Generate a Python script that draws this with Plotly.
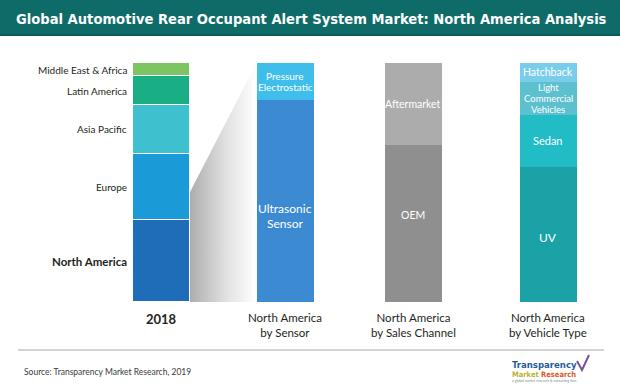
import plotly.graph_objects as go

# ---------------- data ----------------
region_labels = ["North America", "Europe", "Asia Pacific", "Latin America", "Middle East & Africa"]
region_share = [34.3, 27.8, 20.3, 12.1, 5.5]

sensor_labels = ["Ultrasonic<br>Sensor", "Pressure<br>Electrostatic"]
sensor_share = [84.5, 15.5]

channel_labels = ["OEM", "Aftermarket"]
channel_share = [65.7, 34.3]

vehicle_labels = ["UV", "Sedan", "Light<br>Commercial<br>Vehicles", "Hatchback"]
vehicle_share = [56.6, 21.6, 13.9, 7.9]

column_labels = ["<b>2018</b>", "North America<br>by Sensor", "North America<br>by Sales Channel",
                 "North America<br>by Vehicle Type"]

# ---------------- styles / layout constants ----------------
W, H = 620, 387
MT, MB = 63, 85
PLOT_H = H - MT - MB
COL_POS = [161, 285, 413, 548]   # column slot centres on the 0..620 x axis
BAR_W = 57
FONT = "Lato, 'Open Sans', sans-serif"

region_colors = ["#1f6db8", "#1a9ad6", "#3ec0cf", "#1aae85", "#7dc462"]
sensor_colors = ["#3c8bd2", "#3fbdeb"]
channel_colors = ["#8f8f8f", "#acacac"]
vehicle_colors = ["#1ba2a7", "#22bcc6", "#5cc0ce", "#7acdea"]


def py(px):
    """pixel row -> paper y"""
    return (H - MB - px) / PLOT_H


def pxx(px):
    return px / W


fig = go.Figure()

# connector gradient between column 1 and column 2
conn_top = 46  # height on column 1 where the connector starts
xl = COL_POS[0] + BAR_W / 2 + 0.5
xr = COL_POS[1] - BAR_W / 2
fig.add_trace(go.Scatter(
    x=[xl, xl, xr, xr, xl], y=[0, conn_top, 100, 0, 0],
    mode="lines", line=dict(width=0), fill="toself",
    fillgradient=dict(type="horizontal", colorscale=[[0, "#adadad"], [0.55, "#e2e2e2"], [1, "#ffffff"]]),
    hoverinfo="skip", showlegend=False))

annotations = []


def add_stack(col, values, colors, gap):
    for v, c in zip(values, colors):
        fig.add_trace(go.Bar(x=[COL_POS[col]], y=[v], width=BAR_W,
                             marker=dict(color=c, line=dict(color="white", width=gap)),
                             showlegend=False, hoverinfo="skip"))


add_stack(0, region_share, region_colors, 1.5)
add_stack(1, sensor_share, sensor_colors, 0)
add_stack(2, channel_share, channel_colors, 0)
add_stack(3, vehicle_share, vehicle_colors, 0)


def mids(values):
    out, s = [], 0
    for v in values:
        out.append(s + v / 2)
        s += v
    return out


# left labels of 2018 column
for lab, m in zip(region_labels, mids(region_share)):
    bold = lab == "North America"
    annotations.append(dict(x=COL_POS[0] - BAR_W / 2, y=m, xref="x", yref="y",
                            text=f"<b>{lab}</b>" if bold else lab, showarrow=False,
                            xanchor="right", yanchor="middle", xshift=-4,
                            font=dict(family=FONT, size=11.5 if bold else 10, color="#231f20")))


def inside(col, labels, values, sizes, shifts, gaps):
    for lab, m, s, sh, g in zip(labels, mids(values), sizes, shifts, gaps):
        lines = lab.split("<br>")
        n = len(lines)
        for k, ln in enumerate(lines):
            off = ((n - 1) / 2 - k) * g
            annotations.append(dict(x=COL_POS[col], y=m, xref="x", yref="y", text=ln,
                                    showarrow=False, xanchor="center", yanchor="middle",
                                    yshift=sh + off, font=dict(family=FONT, size=s, color="white")))


inside(1, sensor_labels, sensor_share, [12, 10], [-15, 0], [15, 11])
inside(2, channel_labels, channel_share, [10.5, 10.5], [8, 0], [0, 0])
inside(3, vehicle_labels, vehicle_share, [12, 11, 9.5, 10.5], [-3, 0, 0, 0], [0, 0, 11, 0])

# column labels
for i, lab in enumerate(column_labels):
    annotations.append(dict(x=COL_POS[i], y=py(319 if i == 0 else 325), xref="x", yref="paper",
                            text=lab, showarrow=False, xanchor="center", yanchor="middle",
                            font=dict(family=FONT, size=13 if i == 0 else 11.5, color="#231f20")))

# title
annotations.append(dict(x=pxx(311), y=py(19), xref="paper", yref="paper",
                        text="<b>Global Automotive Rear Occupant Alert System Market: North America Analysis</b>",
                        showarrow=False, xanchor="center", yanchor="middle",
                        font=dict(family="'DejaVu Sans Condensed', 'Liberation Sans Narrow', sans-serif",
                                  size=14.6, color="white")))
# source
annotations.append(dict(x=pxx(22), y=py(372), xref="paper", yref="paper",
                        text="Source: Transparency Market Research, 2019", showarrow=False,
                        xanchor="left", yanchor="middle",
                        font=dict(family=FONT, size=8.5, color="#3a3a3a")))
# logo
annotations.append(dict(x=pxx(544), y=py(364), xref="paper", yref="paper",
                        text="<b>Transparency</b>", showarrow=False, xanchor="center", yanchor="middle",
                        font=dict(family="'DejaVu Sans Condensed', Roboto, sans-serif", size=9.5, color="#1f5d9c")))
annotations.append(dict(x=pxx(544), y=py(374), xref="paper", yref="paper",
                        text="<b><span style='color:#b9b23a'>Market</span> <span style='color:#e0572a'>Research</span></b>",
                        showarrow=False, xanchor="center", yanchor="middle",
                        font=dict(family="'DejaVu Sans Condensed', Roboto, sans-serif", size=7.5)))
annotations.append(dict(x=pxx(544), y=py(381), xref="paper", yref="paper",
                        text="a global market research & consulting firm", showarrow=False,
                        xanchor="center", yanchor="middle",
                        font=dict(family=FONT, size=3.5, color="#888888")))

shapes = [
    # title banner
    dict(type="rect", xref="paper", yref="paper", x0=0, x1=1, y0=py(36), y1=py(0),
         fillcolor="#0e6b68", line=dict(width=0), layer="below"),
    dict(type="rect", xref="paper", yref="paper", x0=0, x1=1, y0=py(36), y1=py(34),
         fillcolor="#0a5a57", line=dict(width=0), layer="below"),
    # divider
    dict(type="line", xref="paper", yref="paper", x0=pxx(18), x1=pxx(604), y0=py(350), y1=py(350),
         line=dict(color="#d3d3d3", width=2)),
    # logo check mark
    dict(type="path", xref="paper", yref="paper",
         path=f"M {pxx(577)} {py(361)} L {pxx(582)} {py(370)} L {pxx(589)} {py(355)}",
         line=dict(color="#7a4fa0", width=2)),
]

fig.update_layout(
    width=W, height=H, margin=dict(l=0, r=0, t=MT, b=MB),
    barmode="stack", bargap=0,
    plot_bgcolor="white", paper_bgcolor="white",
    xaxis=dict(range=[0, W], visible=False, fixedrange=True),
    yaxis=dict(range=[0, 100], visible=False, fixedrange=True),
    annotations=annotations, shapes=shapes,
)

fig.write_html("out.html", config={"displayModeBar": False},
               post_script="document.body.style.margin='0';document.body.style.overflow='hidden';")
